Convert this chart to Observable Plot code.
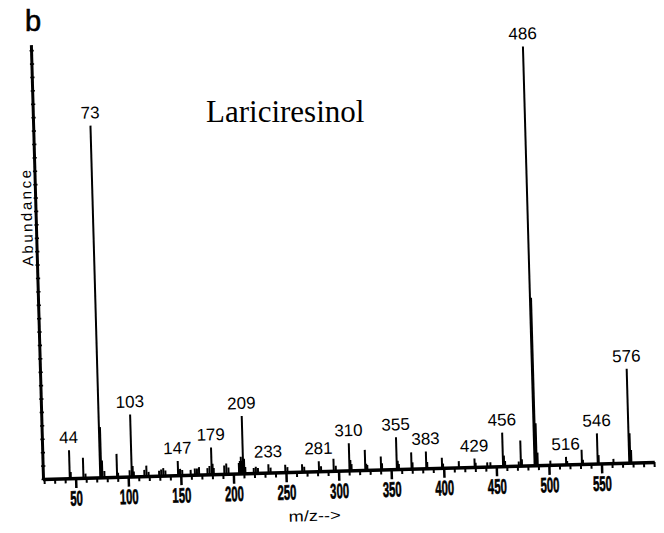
<!DOCTYPE html>
<html><head><meta charset="utf-8">
<script src="https://cdn.jsdelivr.net/npm/d3@7"></script>
<script src="https://cdn.jsdelivr.net/npm/@observablehq/plot@0.6"></script>
<style>
html,body{margin:0;padding:0;background:#fff;}
#wrap{position:relative;width:664px;height:533px;overflow:hidden;background:#fff;}
#chart svg{position:absolute;left:0;top:0;overflow:visible;background:transparent;transform:rotate(-1.6deg);transform-origin:43px 479px;}
.panel{position:absolute;left:25px;top:7px;font:29px "Liberation Sans",Arial,sans-serif;line-height:29px;color:#000;-webkit-text-stroke:0.6px #000;}
.title{position:absolute;left:206px;top:96px;font:31px "Liberation Serif","Times New Roman",serif;line-height:31px;color:#000;}
</style></head>
<body>
<div id="wrap"><div id="chart"></div><div class="panel">b</div><div class="title">Lariciresinol</div></div>
<script>
// m/z values of the peaks and their relative abundance (%)
const mz = [44,45,57,59,73,74,75,77,89,90,101,103,104,105,115,117,119,129,131,133,135,147,148,149,151,159,163,165,167,175,177,179,180,181,191,193,195,205,206,207,208,209,210,211,219,221,223,233,235,249,251,265,267,281,283,295,297,310,311,312,325,326,327,340,341,355,356,357,369,370,383,384,398,399,414,429,430,441,444,456,457,458,471,473,474,486,487,488,489,501,516,517,531,532,546,547,561,576,577,578];
const abundance = [6.7,1.5,4.8,1.0,84,12,4,1.5,5.5,1.0,1.5,14.8,2.5,1.2,1.5,2.5,1.0,1.2,1.5,1.8,1.2,3.4,1.2,1.5,1.2,1.2,1.5,1.5,1.8,1.5,2.0,6.4,2.5,1.5,2.0,2.5,1.5,2.5,3.0,4.0,3.0,13.7,3.5,1.5,1.2,1.5,1.2,2.0,1.2,1.8,1.2,1.8,1.2,2.4,1.2,2.9,1.2,6.5,2.5,1.5,4.8,1.5,1.2,3.1,1.5,7.6,2.0,1.2,3.9,1.5,4.0,1.5,2.4,1.0,1.5,2.0,1.0,1.0,1.0,8.0,2.5,1.2,1.0,6.0,1.5,100,40,10,3,1.0,1.8,0.8,3.4,1.0,7.2,2.0,1.0,22.4,7.0,3.0];
// peaks that carry an m/z label
const labeledMz = [44,73,103,147,179,209,233,281,310,355,383,429,456,486,516,546,576];
// axis ticks and labels
const majorTicks = [50,100,150,200,250,300,350,400,450,500,550];
const minorTicks = [20,30,40,60,70,80,90,110,120,130,140,160,170,180,190,210,220,230,240,260,270,280,290,310,320,330,340,360,370,380,390,410,420,430,440,460,470,480,490,510,520,530,540,560,570,580,590,600];
const yTicks = [0,3.2,6.4,9.6,12.8,16,19.2,22.4,25.6,28.8,32,35.2,38.4,41.6,44.8,48,51.2,54.4,57.6,60.8,64,67.2,70.4,73.6,76.8,80,83.2,86.4,89.6,92.8,96,99.2,102.4];
const xLabel = "m/z-->";
const yLabel = "Abundance";
const xDomain = [19, 600.7];
const yDomain = [0, 103.6];

const peaks = mz.map((m, i) => ({mz: m, ab: abundance[i]}));
const labeled = peaks.filter(p => labeledMz.includes(p.mz));
const sans = "Liberation Sans, Arial, sans-serif";
const narrow = "Liberation Sans Narrow, Arial Narrow, Liberation Sans, sans-serif";

const chart = Plot.plot({
  width: 664, height: 533,
  marginLeft: 43, marginRight: 9, marginTop: 45, marginBottom: 54,
  x: {domain: xDomain, axis: null},
  y: {domain: yDomain, axis: null},
  marks: [
    Plot.ruleX(peaks, {x: "mz", y1: 0, y2: "ab", stroke: "#000", strokeWidth: 2}),
    Plot.ruleY([0], {stroke: "#000", strokeWidth: 3.5}),
    Plot.ruleX([xDomain[0]], {y1: yDomain[0], y2: yDomain[1], stroke: "#000", strokeWidth: 3}),
    Plot.ruleY(yTicks, {y: d => d, x1: 17.6, x2: 21.6, stroke: "#000", strokeWidth: 1.6}),
    Plot.axisX(minorTicks, {tickSize: 5, tickFormat: () => "", strokeWidth: 2, label: null}),
    Plot.axisX(majorTicks, {tickSize: 10, tickPadding: 2, strokeWidth: 2.5, label: null, fontSize: 21, fontWeight: "bold", fontFamily: narrow}),
    Plot.text(labeled, {x: "mz", y: "ab", text: d => String(d.mz), dy: -13, lineAnchor: "middle", fontSize: 17, fontFamily: sans, fill: "#000"}),
    Plot.text([yLabel], {frameAnchor: "left", textAnchor: "middle", dx: -9, dy: -46, rotate: -90, fontSize: 15, fontFamily: sans, fill: "#000"}),
    Plot.text([xLabel], {frameAnchor: "bottom", dx: -36, dy: 49, fontSize: 15, fontFamily: sans, fill: "#000"})
  ]
});
document.getElementById("chart").appendChild(chart);

const svg = d3.select(chart);
svg.selectAll("text").each(function() {
  const t = this.textContent;
  if (/^\d+$/.test(t) && majorTicks.includes(+t) && this.closest('g[aria-label="x-axis tick label"]')) {
    d3.select(this).attr("textLength", t.length * 6.3).attr("lengthAdjust", "spacingAndGlyphs")
      .style("font-weight", "bold").style("font-size", "21px")
      .style("stroke", "#000").style("stroke-width", "0.6px");
  } else if (t === yLabel) {
    d3.select(this).style("letter-spacing", "2.5px");
  } else if (t === xLabel) {
    d3.select(this).attr("textLength", 52).attr("lengthAdjust", "spacingAndGlyphs");
  }
});
</script>
</body></html>
